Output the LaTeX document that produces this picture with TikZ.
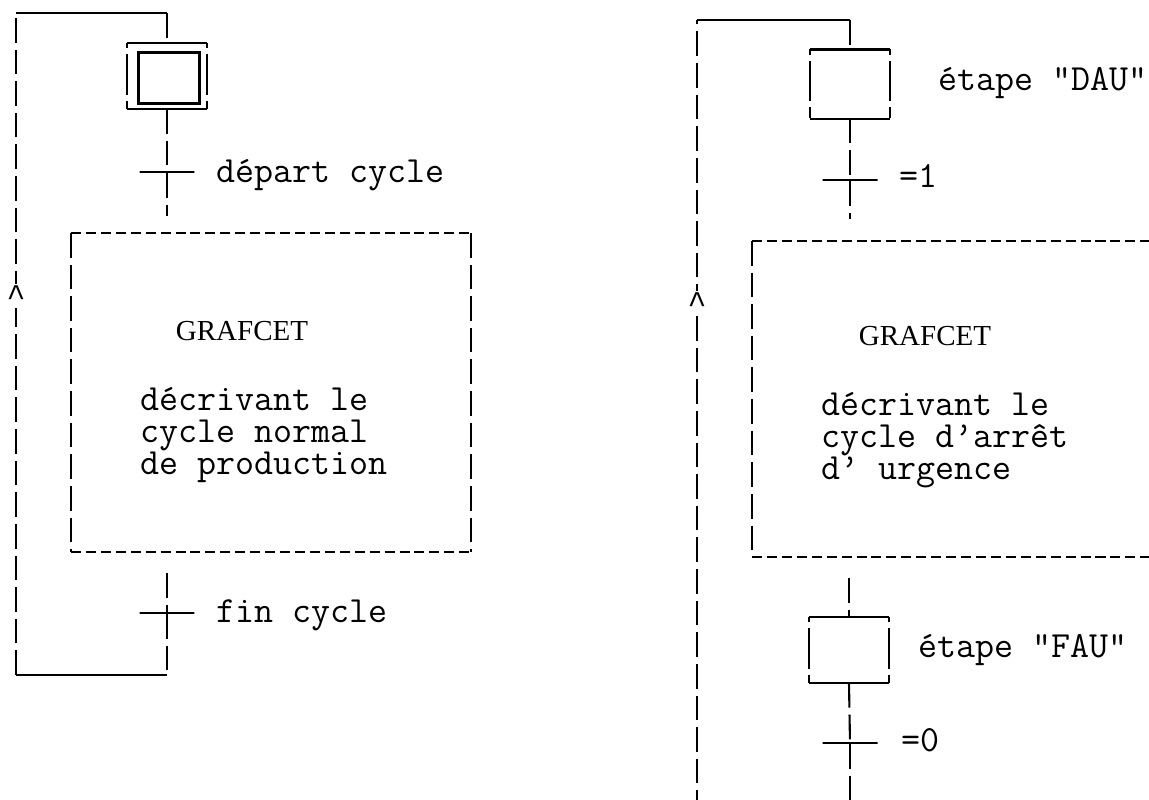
\documentclass[tikz,border=0pt]{standalone}
\usepackage{fontspec}
\newfontfamily\printfont{Latin Modern Mono}
\newfontfamily\caretfont{Liberation Mono}
\newfontfamily\titlefont{Liberation Serif}
\begin{document}
\begin{tikzpicture}[x=0.02cm,y=-0.02cm,line width=1.2pt]

    \tikzset{
      vbar/.style={dash pattern=on 14pt off 4pt},
      hdash/.style={dash pattern=on 5.7pt off 2.8pt},
      sidebar/.style={dash pattern=on 3pt off 3.5pt on 23pt off 3.5pt on 3pt off 0pt},
      etape/.style={
        rectangle,
        inner sep=0pt,
        minimum width=1.56cm,
        minimum height=1.3cm,
      },
      trans/.style={
        draw,
        rectangle,
        inner sep=0pt,
        minimum width=1.1cm,
        minimum height=0pt,
      },
      cadre/.style={rectangle,inner sep=0pt},
      txt/.style={font=\printfont\fontsize{21}{18.4}\selectfont,inner sep=0pt},
      titre/.style={font=\titlefont\fontsize{16.5}{19}\selectfont,inner sep=0pt},
      caret/.style={font=\caretfont\fontsize{18}{18}\selectfont,fill=white,inner sep=1pt},
    }
    \useasboundingbox (0,0) rectangle (1149,799);
    \clip (0,0) rectangle (1149,799);

    % cycle normal
    \node[etape,minimum height=1.28cm] (e0) at (167,76) {};
    \node[etape,draw,minimum width=1.22cm,minimum height=1.02cm,line width=1.5pt] (e0i) at (169,78) {};
    \draw (e0.north west) -- (e0.north east) (e0.south west) -- (e0.south east);
    \draw[sidebar] (e0.north west) -- (e0.south west) (e0.north east) -- (e0.south east);
    \node[trans] (t0) at (167,172) {};
    \node[txt,anchor=base west] (l0) at (215,182) {départ cycle};
    \node[cadre,minimum width=7.96cm,minimum height=6.34cm] (g0) at (271,392.5) {};
    \draw[hdash] (g0.north west) -- (g0.north east) (g0.south west) -- (g0.south east);
    \draw[vbar] (g0.north west) -- (g0.south west) (g0.north east) -- (g0.south east);
    \node[titre,anchor=base] (n0) at (242,340) {GRAFCET};
    \node[txt,anchor=north west,align=left] (d0) at (139,386) {décrivant le\\cycle normal\\de production};
    \node[trans] (t1) at (167,613) {};
    \node[txt,anchor=base west] (l1) at (215,622) {fin cycle};
    \coordinate (b0) at (167,675);
    \coordinate (b1) at (16,675);
    \coordinate (h1) at (16,13);
    \coordinate (h0) at (167,13);
    \draw[vbar] (e0.south) -- (t0);
    \draw[vbar,shorten >=0.34cm] (t0) -- (g0.north -| t0);
    \draw[vbar,shorten <=0.42cm] (g0.south -| t1) -- (t1);
    \draw[vbar] (t1) -- (b0);
    \draw (b0) -- (b1);
    \draw[vbar] (b1) -- (h1);
    \draw (h1) -- (h0);
    \draw[vbar] (h0) -- (e0.north);
    \node[caret] (a0) at (16,296) {\textasciicircum};

    % cycle d'arret d'urgence
    \node[etape,minimum height=1.34cm] (e1) at (850,84) {};
    \draw (e1.north west) -- (e1.north east) (e1.south west) -- (e1.south east);
    \draw[sidebar] (e1.north west) -- (e1.south west) (e1.north east) -- (e1.south east);
    \node[txt,anchor=base west] (l2) at (937,90) {étape "DAU"};
    \node[trans] (t2) at (850,180) {};
    \node[txt,anchor=base west] (l3) at (898,187) {=1};
    \node[cadre,minimum width=8.24cm,minimum height=6.28cm] (g1) at (959,399) {};
    \draw[hdash] (g1.north west) -- (g1.north east) (g1.south west) -- (g1.south east);
    \draw[vbar] (g1.north west) -- (g1.south west) (g1.north east) -- (g1.south east);
    \node[titre,anchor=base] (n1) at (925,345) {GRAFCET};
    \node[txt,anchor=north west,align=left] (d1) at (820,391) {décrivant le\\cycle d’arrêt\\d’ urgence};
    \node[etape,minimum height=1.28cm] (e2) at (849,650) {};
    \draw (e2.north west) -- (e2.north east) (e2.south west) -- (e2.south east);
    \draw[sidebar] (e2.north west) -- (e2.south west) (e2.north east) -- (e2.south east);
    \node[txt,anchor=base west] (l4) at (917,657) {étape "FAU"};
    \node[trans] (t3) at (850,743) {};
    \node[txt,anchor=base west] (l5) at (900,751) {=0};
    \coordinate (b2) at (850,815);
    \coordinate (b3) at (697,815);
    \coordinate (h3) at (697,20);
    \coordinate (h2) at (850,20);
    \draw[vbar] (e1.south) -- (t2);
    \draw[vbar,shorten >=0.44cm] (t2) -- (g1.north -| t2);
    \draw[vbar,shorten <=0.42cm] (g1.south -| e2) -- (e2.north);
    \draw[vbar] (e2.south) -- (t3);
    \draw[vbar] (t3) -- (b2);
    \draw (b2) -- (b3);
    \draw[vbar] (b3) -- (h3);
    \draw (h3) -- (h2);
    \draw[vbar] (h2) -- (e1.north);
    \node[caret] (a1) at (697,303) {\textasciicircum};

\end{tikzpicture}
\end{document}
